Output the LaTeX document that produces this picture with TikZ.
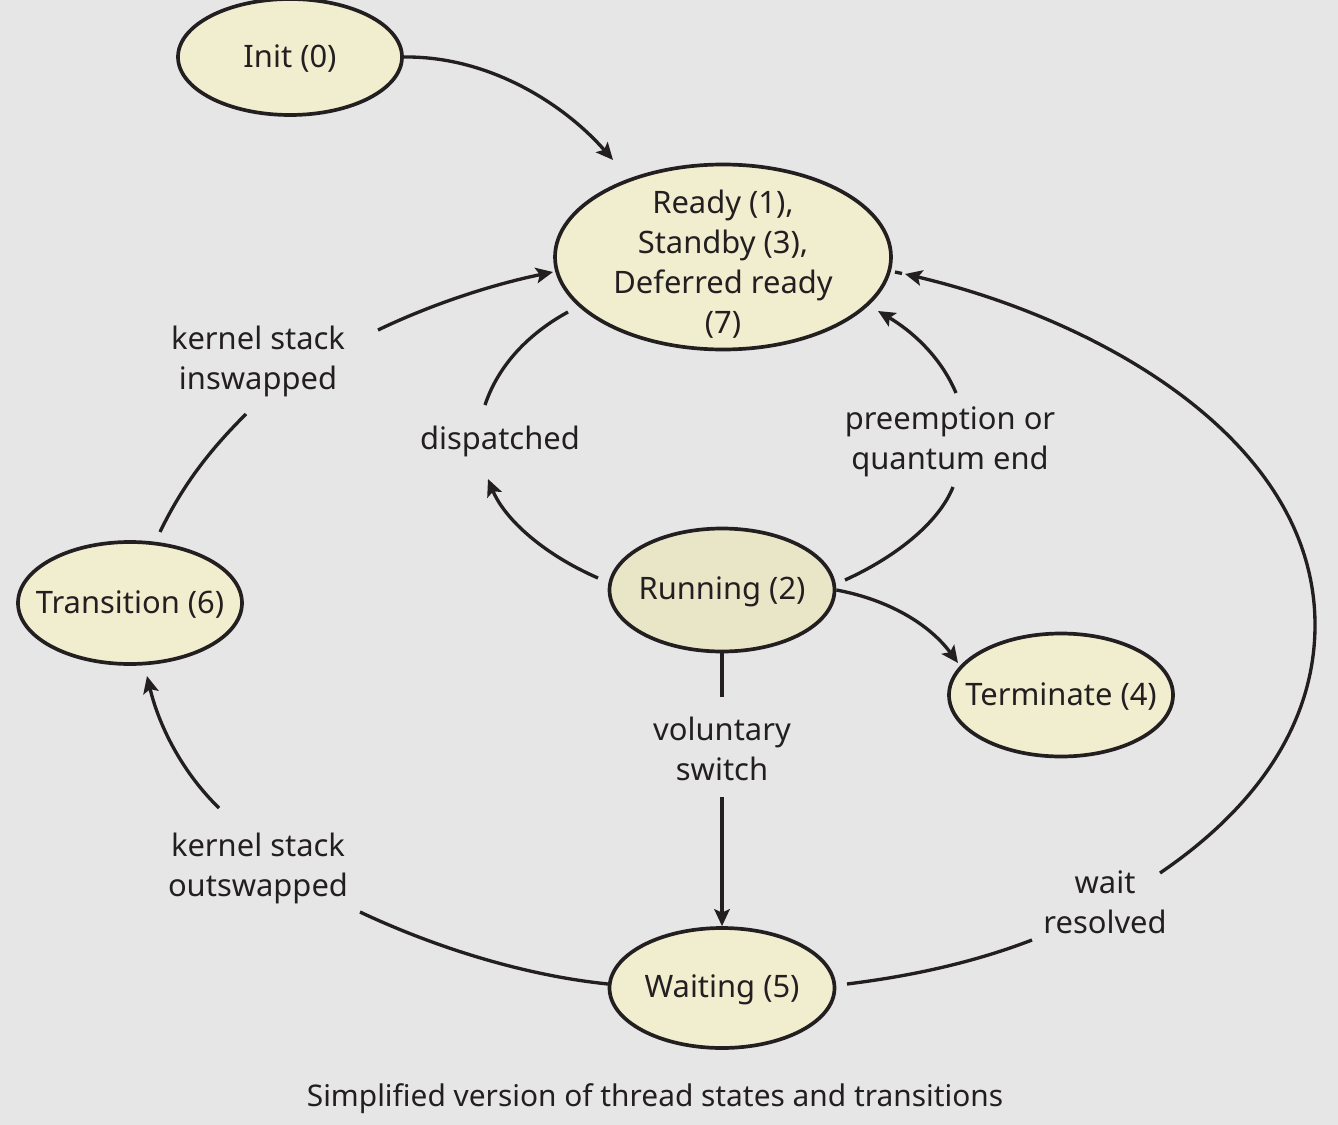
\documentclass[tikz,border=0pt]{standalone}
\usepackage{fontspec}
\setmainfont{Noto Sans}
\usetikzlibrary{shapes.geometric,arrows.meta}
\definecolor{bgc}{HTML}{E6E6E6}
\definecolor{fillc}{HTML}{F1EDCF}
\definecolor{runc}{HTML}{E9E5C7}
\definecolor{linec}{HTML}{231F20}
\begin{document}
\begin{tikzpicture}[x=0.02cm,y=-0.02cm,
  txt/.style={font=\fontsize{17.6}{22.8}\selectfont,text=linec,align=center,inner sep=0pt},
  state/.style={ellipse,draw=linec,line width=2.1pt,fill=fillc,inner sep=0pt},
  lbl/.style={txt},
  conn/.style={draw=linec,line width=1.9pt},
  arr/.style={conn,-{Stealth[length=0.34cm,width=0.31cm,inset=0.07cm]}}]
\fill[bgc] (0,0) rectangle (1338,1125);
\useasboundingbox (0,0) rectangle (1338,1125);
% states
\node[state,minimum width=224*0.02cm,minimum height=116*0.02cm,label={[txt,yshift=-0.04cm]center:Init (0)}] (init) at (290,57) {};
\node[state,minimum width=336*0.02cm,minimum height=185*0.02cm,label={[txt,yshift=-0.14cm]center:Ready (1),\\Standby (3),\\Deferred ready\\(7)}] (ready) at (723,257) {};
\node[state,minimum width=224*0.02cm,minimum height=122*0.02cm,label={[txt,yshift=-0.04cm]center:Transition (6)}] (trans) at (130,603) {};
\node[state,fill=runc,minimum width=225*0.02cm,minimum height=123*0.02cm,label={[txt,yshift=-0.04cm]center:Running (2)}] (run) at (722,590) {};
\node[state,minimum width=224*0.02cm,minimum height=123*0.02cm,label={[txt,yshift=-0.04cm]center:Terminate (4)}] (term) at (1061,695) {};
\node[state,minimum width=225*0.02cm,minimum height=120*0.02cm,label={[txt,yshift=-0.04cm]center:Waiting (5)}] (wait) at (722,988) {};
% labels
\node[lbl] (l1) at (258,361) {kernel stack\\inswapped};
\node[lbl] (l2) at (500,441) {dispatched};
\node[lbl] (l3) at (950,442) {preemption or\\quantum end};
\node[lbl] (l4) at (722,749) {voluntary\\switch};
\node[lbl] (l5) at (258,868) {kernel stack\\outswapped};
\node[lbl] (l6) at (1105,902) {wait\\resolved};
\node[lbl,font=\fontsize{17}{20}\selectfont] (cap) at (655,1099) {Simplified version of thread states and transitions};
% coordinates
\coordinate (a1) at (613,160);
\coordinate (b0) at (160,532); \coordinate (b1) at (246,414);
\coordinate (b2) at (378,330); \coordinate (b3) at (553,272);
\coordinate (c0) at (598,578); \coordinate (c1) at (488,479);
\coordinate (c2) at (485,405); \coordinate (c3) at (568,312);
\coordinate (d0) at (845,580); \coordinate (d1) at (953,487);
\coordinate (d2) at (956,393); \coordinate (d3) at (878,311);
\coordinate (e1) at (958,663);
\coordinate (f1) at (722,697); \coordinate (f2) at (722,797);
\coordinate (g0) at (608,984); \coordinate (g1) at (360,912);
\coordinate (g2) at (219,808); \coordinate (g3) at (147,676);
\coordinate (h0) at (847,984); \coordinate (h1) at (1032,940);
\coordinate (h2) at (1160,873); \coordinate (h3) at (1315,625); \coordinate (h4) at (905,274);
% connectors
\draw[arr] (init.east) .. controls (490,56) and (565,105) .. (a1);
\draw[conn] (b0) .. controls (185,480) and (215,445) .. (b1);
\draw[arr] (b2) .. controls (430,305) and (490,285) .. (b3);
\draw[arr] (c0) .. controls (545,555) and (505,520) .. (c1);
\draw[conn] (c2) .. controls (500,360) and (535,330) .. (c3);
\draw[conn] (d0) .. controls (900,555) and (940,520) .. (d1);
\draw[arr] (d2) .. controls (940,355) and (910,330) .. (d3);
\draw[arr] (run.east) .. controls (890,600) and (930,625) .. (e1);
\draw[conn] (run.south) -- (f1);
\draw[arr] (f2) -- (wait.north);
\draw[conn] (g0) .. controls (520,975) and (430,945) .. (g1);
\draw[arr] (g2) .. controls (185,775) and (160,730) .. (g3);
\draw[conn] (h0) .. controls (920,975) and (980,960) .. (h1);
\draw[arr] (h2) .. controls (1260,805) and (1315,720) .. (h3) .. controls (1315,440) and (1100,320) .. (h4);
\draw[conn] (895,272) -- (902,273.5);
\end{tikzpicture}
\end{document}
